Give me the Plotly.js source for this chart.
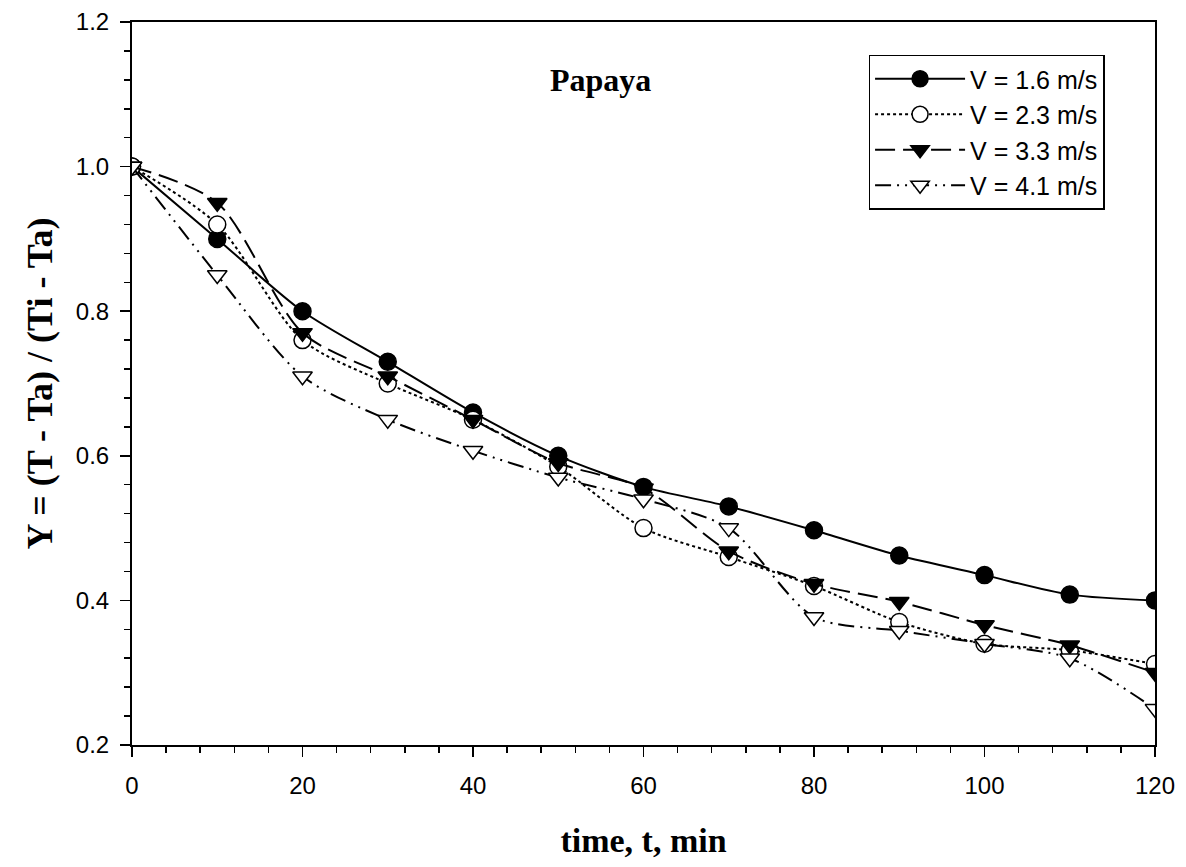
<!DOCTYPE html>
<html>
<head>
<meta charset="utf-8">
<script src="https://cdn.plot.ly/plotly-3.0.1.min.js"></script>
<style>html,body{margin:0;padding:0;background:#fff;}#chart{width:1186px;height:867px;}</style>
</head>
<body>
<div id="chart"></div>
<script>
const timeMin = [0, 10, 20, 30, 40, 50, 60, 70, 80, 90, 100, 110, 120];
const seriesNames = ["V = 1.6 m/s", "V = 2.3 m/s", "V = 3.3 m/s", "V = 4.1 m/s"];
const yV16 = [1.0, 0.90, 0.80, 0.73, 0.66, 0.60, 0.557, 0.53, 0.497, 0.462, 0.435, 0.408, 0.40];
const yV23 = [1.0, 0.92, 0.76, 0.70, 0.65, 0.585, 0.50, 0.46, 0.42, 0.37, 0.34, 0.331, 0.312];
const yV33 = [1.0, 0.95, 0.77, 0.71, 0.65, 0.59, 0.555, 0.468, 0.423, 0.398, 0.366, 0.338, 0.30];
const yV41 = [1.0, 0.85, 0.71, 0.65, 0.607, 0.57, 0.54, 0.50, 0.377, 0.358, 0.34, 0.32, 0.25];

const serif = "Liberation Serif, Times New Roman, serif";
const sans = "Liberation Sans, Arial, sans-serif";

function tr(y, name, dash, symbol, fill) {
  return {
    x: timeMin, y: y, name: name, type: "scatter", mode: "lines+markers",
    line: {color: "#000", width: 2, dash: dash, shape: "spline", smoothing: 0.8},
    marker: {symbol: symbol, size: 17, color: fill, line: {color: "#000", width: 1.5}}
  };
}

const data = [
  tr(yV16, seriesNames[0], "solid", "circle", "#000"),
  tr(yV23, seriesNames[1], "dot", "circle", "#fff"),
  tr(yV33, seriesNames[2], "20px,8px", "triangle-down", "#000"),
  tr(yV41, seriesNames[3], "16px,6px,2px,6px,2px,6px", "triangle-down", "#fff")
];

const layout = {
  width: 1186, height: 867,
  margin: {l: 132, r: 31, t: 22, b: 122},
  paper_bgcolor: "#fff", plot_bgcolor: "#fff",
  showlegend: true,
  legend: {x: 0.72, y: 0.955, xanchor: "left", yanchor: "top",
    bordercolor: "#000", borderwidth: 1.5, bgcolor: "#fff",
    font: {family: sans, size: 25, color: "#000"}, tracegroupgap: 0,
    itemwidth: 90},
  xaxis: {
    range: [0, 120], tickvals: [0, 20, 40, 60, 80, 100, 120],
    ticks: "outside", ticklen: 10, tickwidth: 1.5, tickcolor: "#000",
    ticklabelstandoff: 8,
    minor: {dtick: 4, ticks: "outside", ticklen: 6, tickwidth: 1.5, tickcolor: "#000"},
    showline: true, linecolor: "#000", linewidth: 2, mirror: true,
    showgrid: false, zeroline: false,
    tickfont: {family: sans, size: 24, color: "#000"},
    title: {text: "time, t, min", font: {family: serif, size: 34, color: "#000", weight: "bold"}, standoff: 30}
  },
  yaxis: {
    range: [0.2, 1.2], tickvals: [0.2, 0.4, 0.6, 0.8, 1.0, 1.2], tickformat: ".1f",
    ticks: "outside", ticklen: 10, tickwidth: 1.5, tickcolor: "#000",
    ticklabelstandoff: 6,
    minor: {dtick: 0.04, ticks: "outside", ticklen: 6, tickwidth: 1.5, tickcolor: "#000"},
    showline: true, linecolor: "#000", linewidth: 2, mirror: true,
    showgrid: false, zeroline: false,
    tickfont: {family: sans, size: 24, color: "#000"},
    title: {text: "Y = (T - Ta) / (Ti - Ta)", font: {family: serif, size: 36, color: "#000", weight: "bold"}, standoff: 12}
  },
  annotations: [{
    x: 55, y: 1.12, xref: "x", yref: "y", text: "<b>Papaya</b>", showarrow: false,
    font: {family: serif, size: 32, color: "#000"}
  }]
};

Plotly.newPlot("chart", data, layout, {displayModeBar: false, staticPlot: true});
</script>
</body>
</html>
